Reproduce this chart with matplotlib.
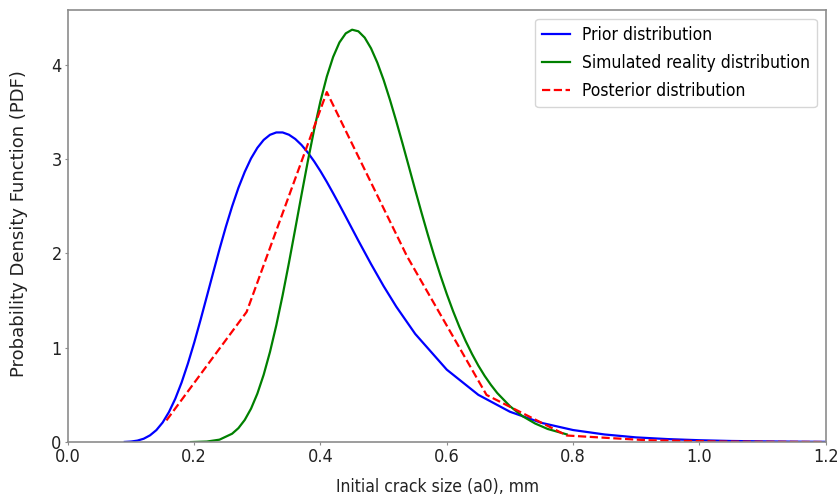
import matplotlib.pyplot as plt

# font settings
plt.rcParams['font.family'] = 'DejaVu Sans'
plt.rcParams['font.stretch'] = 'condensed'
plt.rcParams['font.size'] = 13

# prior distribution of the initial crack size (blue)
prior_x = [0.09, 0.10, 0.11, 0.12, 0.13, 0.14, 0.15, 0.16, 0.17, 0.18, 0.19, 0.20,
           0.21, 0.22, 0.23, 0.24, 0.25, 0.26, 0.27, 0.28, 0.29, 0.30, 0.31, 0.32,
           0.33, 0.34, 0.35, 0.36, 0.37, 0.38, 0.39, 0.40, 0.41, 0.42, 0.43, 0.44,
           0.45, 0.46, 0.48, 0.50, 0.52, 0.55, 0.60, 0.65, 0.70, 0.75, 0.80, 0.85,
           0.90, 0.95, 1.00, 1.05, 1.10, 1.15, 1.20]
prior_pdf = [0.002, 0.006, 0.016, 0.036, 0.072, 0.127, 0.208, 0.319, 0.460, 0.632,
             0.833, 1.055, 1.295, 1.545, 1.796, 2.044, 2.280, 2.498, 2.695, 2.864,
             3.007, 3.119, 3.203, 3.257, 3.282, 3.282, 3.258, 3.213, 3.149, 3.068,
             2.975, 2.871, 2.758, 2.638, 2.515, 2.389, 2.262, 2.135, 1.888, 1.653,
             1.436, 1.147, 0.768, 0.501, 0.322, 0.204, 0.128, 0.081, 0.050, 0.032,
             0.020, 0.012, 0.008, 0.005, 0.003]

# simulated reality (green)
reality_x = [0.195, 0.22, 0.24, 0.26, 0.27, 0.28, 0.29, 0.30, 0.31, 0.32, 0.33,
             0.34, 0.35, 0.36, 0.37, 0.38, 0.39, 0.40, 0.41, 0.42, 0.43, 0.44,
             0.45, 0.46, 0.47, 0.48, 0.49, 0.50, 0.51, 0.52, 0.53, 0.54, 0.55,
             0.56, 0.57, 0.58, 0.59, 0.60, 0.61, 0.62, 0.63, 0.64, 0.65, 0.66,
             0.67, 0.68, 0.70, 0.72, 0.74, 0.76, 0.79]
reality_pdf = [0.0005, 0.006, 0.026, 0.089, 0.148, 0.235, 0.355, 0.514, 0.714,
               0.956, 1.238, 1.556, 1.900, 2.260, 2.624, 2.980, 3.314, 3.615,
               3.874, 4.082, 4.236, 4.332, 4.371, 4.354, 4.287, 4.174, 4.022,
               3.838, 3.628, 3.401, 3.163, 2.919, 2.673, 2.432, 2.199, 1.976,
               1.766, 1.570, 1.388, 1.221, 1.070, 0.934, 0.811, 0.702, 0.606,
               0.520, 0.381, 0.275, 0.197, 0.139, 0.082]

# posterior (red dashed), evaluated on coarse bins
posterior_x = [0.156, 0.283, 0.41, 0.537, 0.663, 0.79, 0.917, 1.043, 1.17, 1.2]
posterior_pdf = [0.23, 1.38, 3.71, 1.97, 0.50, 0.07, 0.02, 0.005, 0.002, 0.001]

fig = plt.figure(figsize=(8.39, 4.99), dpi=100)
ax = fig.add_axes([0.081, 0.114, 0.903, 0.866])

ax.plot(prior_x, prior_pdf, color='blue', linewidth=1.6, label='Prior distribution')
ax.plot(reality_x, reality_pdf, color='green', linewidth=1.6,
        label='Simulated reality distribution')
ax.plot(posterior_x, posterior_pdf, color='red', linestyle='--', linewidth=1.6,
        label='Posterior distribution')

ax.set_xlim(0, 1.2)
ax.set_ylim(0, 4.58)
ax.set_xticks([0.0, 0.2, 0.4, 0.6, 0.8, 1.0, 1.2])
ax.set_yticks([0, 1, 2, 3, 4])

for s in ax.spines.values():
    s.set_color('0.55')
    s.set_linewidth(1.2)
ax.tick_params(colors='0.55', labelcolor='#222222', length=2.5, pad=2, labelsize=13)

ax.set_xlabel('Initial crack size (a0), mm', fontsize=12.5, color='#222222')
ax.xaxis.set_label_coords(0.488, -0.082)
ax.set_ylabel('Probability Density Function (PDF)', fontsize=13,
              fontstretch='normal', color='#222222')
ax.yaxis.set_label_coords(-0.053, 0.505)

ax.legend(loc='upper right', fontsize=12.5, handlelength=1.6, handletextpad=0.7,
          labelspacing=0.6)

fig.savefig('out.png', dpi=100)
